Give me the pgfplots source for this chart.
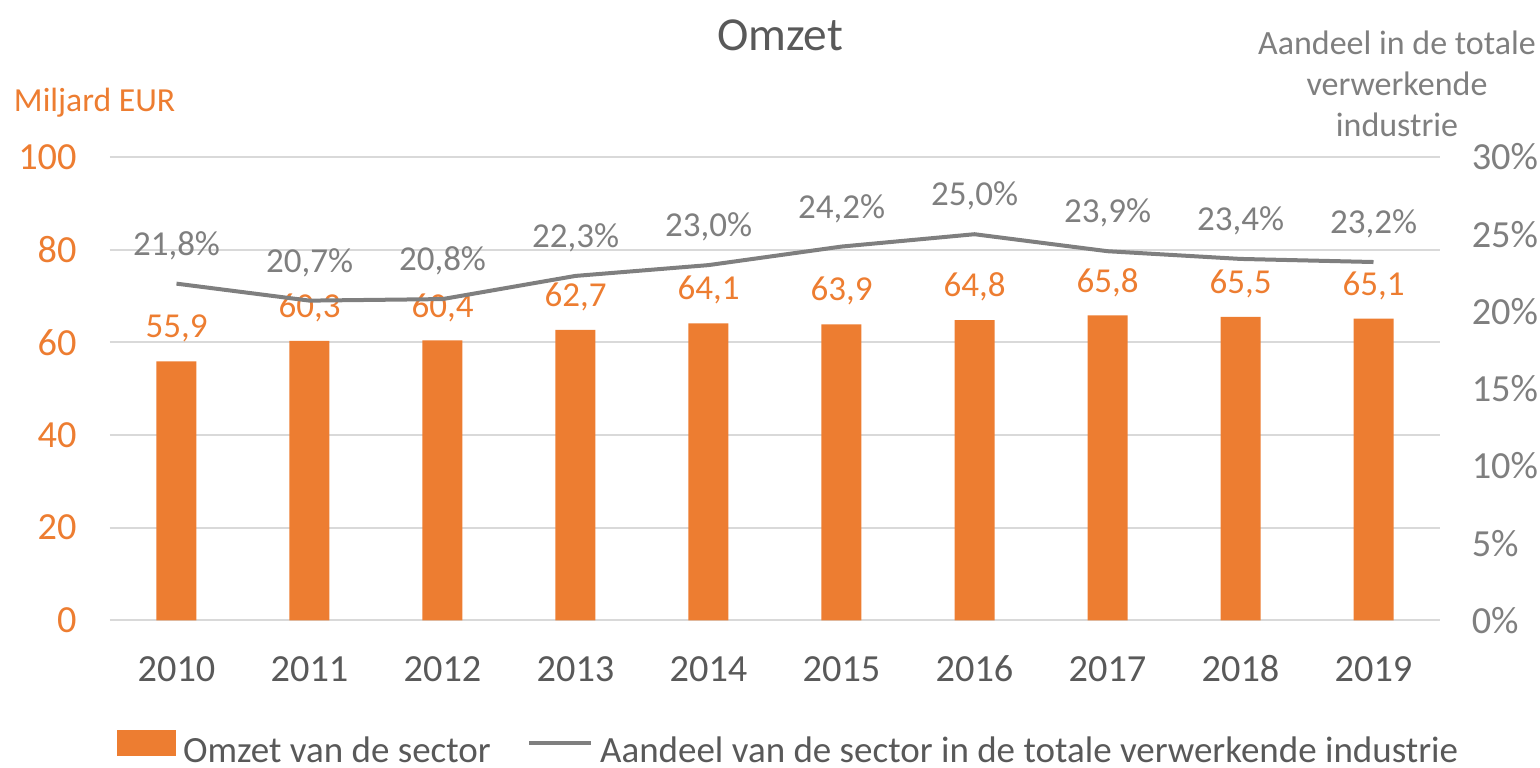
\documentclass[border=0pt]{standalone}
\usepackage{pgfplots}
\pgfplotsset{compat=1.18}
\usepackage{fontspec}
\setmainfont{Carlito}
\usetikzlibrary{calc}

\definecolor{bars}{HTML}{ED7D31}
\definecolor{share}{HTML}{7F7F7F}
\definecolor{txt}{HTML}{595959}
\definecolor{grd}{HTML}{D9D9D9}

\begin{document}
\begin{tikzpicture}
% jaar  omzet (mld EUR)  aandeel (%)
\begin{axis}[
  name=ax,
  scale only axis, width=399pt, height=139pt,
  xmin=-0.5, xmax=9.5, ymin=0, ymax=100,
  xtick={0,...,9},
  xticklabels={2010,2011,2012,2013,2014,2015,2016,2017,2018,2019},
  ytick={0,20,...,100},
  axis line style={draw=none}, major tick length=0pt,
  ymajorgrids, grid style={grd, line width=0.6pt},
  /pgf/number format/assume math mode=true,
  ticklabel style={font=\fontsize{11.5}{13}\selectfont},
  xticklabel style={txt, yshift=-6.7pt, text height=8pt, text depth=0pt},
  yticklabel style={bars, xshift=-6.5pt},
  ybar, bar width=12pt,
  nodes near coords={\pgfmathprintnumber[fixed,fixed zerofill,precision=1,use comma]{\pgfplotspointmeta}},
  point meta=y,
  every node near coord/.append style={bars, anchor=center, yshift=9.9pt,
    font=\fontsize{10.5}{12}\selectfont},
]
\addplot[fill=bars, draw=none] coordinates {
  (0,55.9) (1,60.3) (2,60.4) (3,62.7) (4,64.1)
  (5,63.9) (6,64.8) (7,65.8) (8,65.5) (9,65.1)};
\end{axis}

\begin{axis}[
  scale only axis, width=399pt, height=139pt,
  xmin=-0.5, xmax=9.5, ymin=0, ymax=30,
  axis x line=none, axis y line*=right,
  axis line style={draw=none}, major tick length=0pt,
  ytick={0,5,...,30},
  yticklabel={\pgfmathprintnumber{\tick}\%},
  /pgf/number format/assume math mode=true,
  yticklabel style={share, xshift=6pt, font=\fontsize{11.5}{13}\selectfont},
  nodes near coords={\pgfmathprintnumber[fixed,fixed zerofill,precision=1,use comma]{\pgfplotspointmeta}\%},
  point meta=y,
  every node near coord/.append style={share, anchor=center, yshift=11.4pt,
    font=\fontsize{10.5}{12}\selectfont},
  legend style={at={(0.512,0)}, anchor=center, yshift=-39.6pt,
    draw=none, fill=none, legend columns=2,
    font=\fontsize{11.1}{13}\selectfont, text=txt,
    /tikz/every even column/.append style={column sep=9pt},
    inner sep=0pt, nodes={inner sep=2pt}},
]
\addlegendimage{legend image code/.code={\fill[bars] (0pt,-1pt) rectangle (17.4pt,6.4pt);}}
\addlegendentry{Omzet van de sector}
\addplot[share, line width=1.2pt, mark=none,
  legend image code/.code={\draw[share, line width=1.2pt] (0pt,2.7pt) -- (18.6pt,2.7pt);}]
  coordinates {
  (0,21.8) (1,20.7) (2,20.8) (3,22.3) (4,23.0)
  (5,24.2) (6,25.0) (7,23.9) (8,23.4) (9,23.2)};
\addlegendentry{Aandeel van de sector in de totale verwerkende industrie}
\end{axis}

\node[txt, font=\fontsize{14.2}{16}\selectfont] at ($(ax.north)+(1.5pt,36.6pt)$) {Omzet};
\node[bars, anchor=west, font=\fontsize{10.1}{12}\selectfont, inner sep=0pt]
  at ($(ax.north west)+(-29pt,16.2pt)$) {Miljard EUR};
\node[share, align=center, font=\fontsize{10.2}{12.3}\selectfont, inner sep=0pt]
  at ($(ax.north east)+(-12.9pt,21.9pt)$) {Aandeel in de totale\\verwerkende\\industrie};

\pgfresetboundingbox
\path[use as bounding box] ($(ax.south west)+(-33pt,-44.1pt)$) rectangle ($(ax.north east)+(30pt,47.1pt)$);
\end{tikzpicture}
\end{document}
